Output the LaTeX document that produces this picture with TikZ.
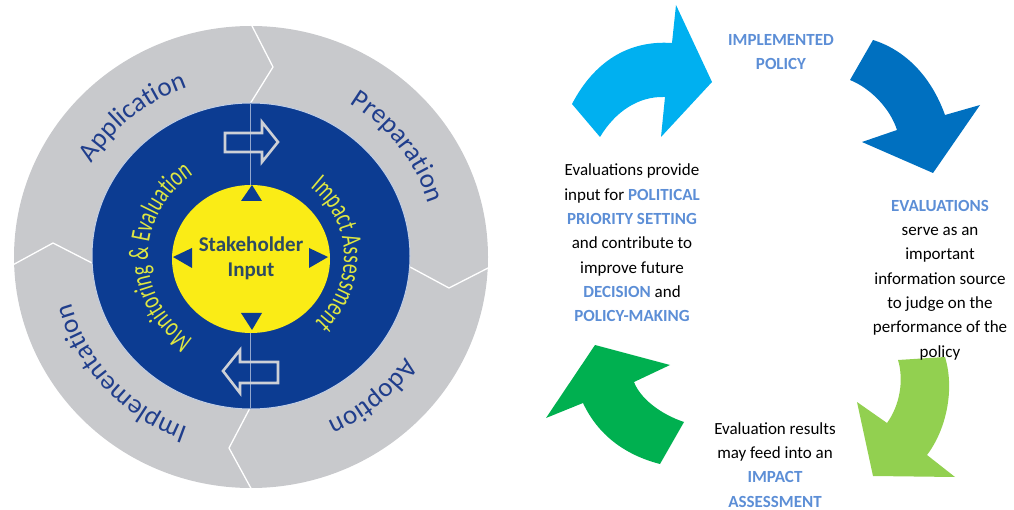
\documentclass[tikz,border=0pt]{standalone}
\usepackage{fontspec}
\setmainfont{Carlito}
\newfontfamily\condfont[FakeStretch=0.7]{Carlito}
\usetikzlibrary{decorations.text}
\definecolor{ringgray}{RGB}{200,201,204}
\definecolor{ringblue}{RGB}{12,60,146}
\definecolor{sunyellow}{RGB}{250,236,22}
\definecolor{ytext}{RGB}{222,230,66}
\definecolor{labelblue}{RGB}{32,62,140}
\definecolor{stakecol}{RGB}{44,74,100}
\definecolor{hl}{RGB}{92,142,214}
\definecolor{arrLB}{RGB}{0,176,240}
\definecolor{arrDB}{RGB}{0,112,192}
\definecolor{arrLG}{RGB}{146,208,80}
\definecolor{arrG}{RGB}{0,176,80}
\definecolor{outl}{RGB}{205,208,214}
\newcommand{\hlt}[1]{\textbf{\color{hl}#1}}
\begin{document}
\begin{tikzpicture}[x=1pt,y=-1pt,
  bodytext/.style={align=center, font=\fontsize{17}{24.3}\selectfont, text=black, inner sep=0pt},
  divider/.style={white, line width=1.3pt},
  hollowarrow/.style={draw=outl, line width=2.6pt, line join=miter},
  tri/.style={fill=ringblue},
  ringlabel/.style={decorate, decoration={text along path, text align=center, text color=labelblue}},
]
\useasboundingbox (0,0) rectangle (1014,510);
% gray ring
\begin{scope}[shift={(251,257)}, y=1pt]
  \fill[ringgray] (0,0) ellipse [x radius=237, y radius=231];
\end{scope}
% dividers
\draw[divider] (250,22) -- (273,67) -- (250,104);
\draw[divider] (410,267) -- (449,288) -- (492,266);
\draw[divider] (250,408) -- (229,448) -- (253,492);
\draw[divider] (9,267) -- (53,243) -- (92,263);
% blue ring
\begin{scope}[shift={(251,256)}, y=1pt]
  \fill[ringblue, draw=white!75!ringblue, line width=1pt] (0,0) ellipse [x radius=159, y radius=153];
\end{scope}
\draw[white!55!ringblue, line width=1pt] (250,104) -- (250,408);
% yellow core
\begin{scope}[shift={(251,259)}, y=1pt]
  \fill[sunyellow] (0,0) ellipse [x radius=79, y radius=74];
\end{scope}
% triangles
\fill[tri] (252,185) -- (241,201) -- (262,201) -- cycle;
\fill[tri] (252,330) -- (241,313) -- (262,313) -- cycle;
\fill[tri] (173,257) -- (192,248) -- (192,268) -- cycle;
\fill[tri] (328,257) -- (309,248) -- (309,268) -- cycle;
% hollow block arrows
\draw[hollowarrow] (225,133) -- (262,133) -- (262,122) -- (278,142) -- (262,162) -- (262,152) -- (225,152) -- cycle;
\draw[hollowarrow] (278,362) -- (240,362) -- (240,350) -- (223,371) -- (240,393) -- (240,383) -- (278,383) -- cycle;
\node[font=\bfseries\fontsize{21}{25}\selectfont, text=stakecol, align=center, inner sep=0pt] (stake) at (251,258) {Stakeholder\\Input};
% ring labels
\begin{scope}[shift={(251,257)}, y=1pt]
  \path[ringlabel, decoration={text={|\fontsize{27}{27}\selectfont|Application}}]
    (200:186 and 181) arc[start angle=200, end angle=60, x radius=186, y radius=181];
  \path[ringlabel, decoration={text={|\fontsize{27}{27}\selectfont|Preparation}}]
    (107:186 and 181) arc[start angle=107, end angle=-33, x radius=186, y radius=181];
  \path[ringlabel, decoration={text={|\fontsize{27}{27}\selectfont|Adoption}}]
    (21:186 and 181) arc[start angle=21, end angle=-119, x radius=186, y radius=181];
  \path[ringlabel, decoration={text={|\fontsize{27}{27}\selectfont|Implementation}}]
    (292:186 and 181) arc[start angle=292, end angle=152, x radius=186, y radius=181];
  \path[ringlabel, decoration={text color=ytext, text={|\condfont\fontsize{28}{28}\selectfont|Monitoring {\&} Evaluation}}]
    (270:103 and 99) arc[start angle=270, end angle=90, x radius=103, y radius=99];
  \path[ringlabel, decoration={text color=ytext, text={|\condfont\fontsize{28}{28}\selectfont|Impact Assessment}}]
    (92:93 and 90) arc[start angle=92, end angle=-88, x radius=93, y radius=90];
\end{scope}
% right-hand cycle arrows
\fill[arrLB] (572,104) -- (600,137) .. controls (615,112) and (638,96) .. (665,97) -- (661,137) -- (712,82) -- (676,5) -- (672,43) .. controls (628,40) and (594,62) .. (572,104) -- cycle;
\fill[arrDB] (873,40) -- (850,80) .. controls (870,88) and (890,108) .. (897,130) -- (862,142) -- (933,173) -- (980,105) -- (945,115) .. controls (931,76) and (905,50) .. (873,40) -- cycle;
\fill[arrLG] (898,360) -- (945,357) .. controls (955,390) and (946,430) .. (927,455) -- (955,477) -- (873,476) -- (857,402) -- (887,423) .. controls (900,405) and (904,380) .. (898,360) -- cycle;
\fill[arrG] (660,464) -- (684,422) .. controls (660,414) and (640,398) .. (634,382) -- (670,365) -- (595,345) -- (546,418) -- (583,403) .. controls (598,435) and (625,455) .. (660,464) -- cycle;
% texts
\node[bodytext] (implpol) at (781,52) {\hlt{IMPLEMENTED}\\\hlt{POLICY}};
\node[bodytext] (leftblk) at (632,243) {Evaluations provide\\input for \hlt{POLITICAL}\\\hlt{PRIORITY SETTING}\\and contribute to\\improve future\\\hlt{DECISION} and\\\hlt{POLICY-MAKING}};
\node[bodytext] (rightblk) at (940,280) {\hlt{EVALUATIONS}\\serve as an\\important\\information source\\to judge on the\\performance of the\\policy};
\node[bodytext] (botblk) at (775,465) {Evaluation results\\may feed into an\\\hlt{IMPACT}\\\hlt{ASSESSMENT}};
\end{tikzpicture}
\end{document}
